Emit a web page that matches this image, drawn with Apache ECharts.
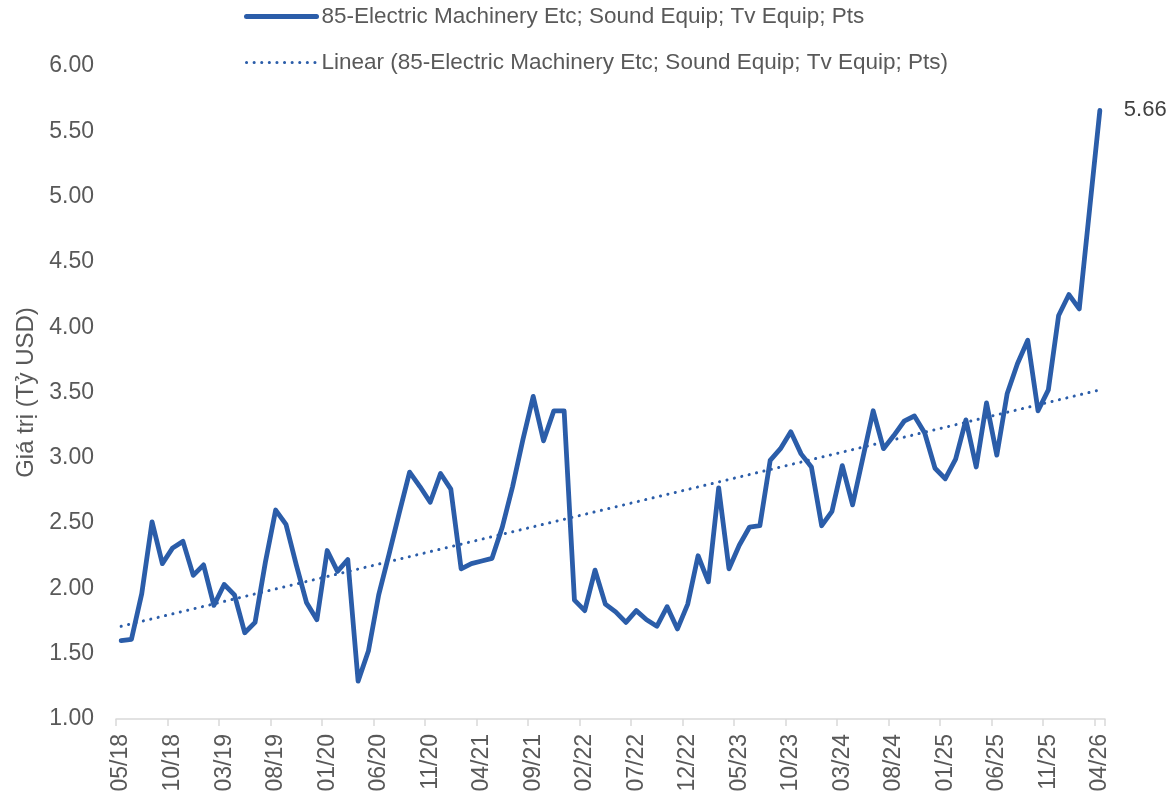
<!DOCTYPE html>
<html>
<head>
<meta charset="utf-8">
<script src="https://cdn.jsdelivr.net/npm/echarts@6/dist/echarts.min.js"></script>
<style>
  html, body { margin: 0; padding: 0; background: #fff; }
  #chart { width: 1171px; height: 798px; }
</style>
</head>
<body>
<div id="chart"></div>
<script>
// tên chuỗi dữ liệu
const seriesName = '85-Electric Machinery Etc; Sound Equip; Tv Equip; Pts';
const trendName = 'Linear (85-Electric Machinery Etc; Sound Equip; Tv Equip; Pts)';

// nhãn tháng 05/18 -> 04/26
const categories = [];
for (let y = 2018, m = 5; categories.length < 96; m++) {
  if (m > 12) { m = 1; y++; }
  categories.push(`${String(m).padStart(2, '0')}/${String(y).slice(2)}`);
}

// giá trị theo tháng (tỷ USD)
const values = [
  1.60, 1.61, 1.96, 2.51, 2.19, 2.31, 2.36, 2.10, 2.18, 1.87,
  2.03, 1.95, 1.66, 1.74, 2.20, 2.60, 2.49, 2.18, 1.89, 1.76,
  2.29, 2.13, 2.22, 1.29, 1.52, 1.95, 2.26, 2.58, 2.89, 2.78,
  2.66, 2.88, 2.76, 2.15, 2.19, 2.21, 2.23, 2.47, 2.78, 3.14,
  3.47, 3.13, 3.36, 3.36, 1.91, 1.83, 2.14, 1.88, 1.82, 1.74,
  1.83, 1.76, 1.71, 1.86, 1.69, 1.88, 2.25, 2.05, 2.77, 2.15,
  2.33, 2.47, 2.48, 2.98, 3.07, 3.20, 3.03, 2.93, 2.48, 2.59,
  2.94, 2.64, 3.00, 3.36, 3.07, 3.17, 3.28, 3.32, 3.19, 2.92,
  2.84, 2.99, 3.29, 2.93, 3.42, 3.02, 3.49, 3.72, 3.90, 3.36,
  3.52, 4.09, 4.25, 4.14, 4.90, 5.66,
];

// đường xu hướng: giá trị đầu và cuối
const trendStart = 1.71;
const trendEnd = 3.52;

const yTicks = { min: 1, max: 6, interval: 0.5 };

const color = '#2B5DA9';
const textColor = '#595959';
const font = 'Liberation Sans';

const trendData = values.map((v, i) => {
  if (i === 0) return trendStart;
  if (i === values.length - 1) return trendEnd;
  return null;
});

const chart = echarts.init(document.getElementById('chart'));

const option = {
  animation: false,
  textStyle: { fontFamily: font },
  legend: {
    orient: 'vertical',
    left: 239,
    top: 0,
    itemWidth: 70,
    itemHeight: 22,
    itemGap: 23,
    textStyle: { fontSize: 22.5, color: textColor, fontFamily: font },
    data: [
      {
        name: seriesName,
        itemStyle: { opacity: 0 },
        lineStyle: { color, width: 5, cap: 'round' },
      },
      {
        name: trendName,
        itemStyle: { opacity: 0 },
        lineStyle: { color, width: 3, type: [0.1, 7.5], cap: 'round' },
      },
    ],
  },
  grid: {
    left: 116,
    right: 66,
    top: 66,
    bottom: 79,
  },
  xAxis: {
    type: 'category',
    data: categories,
    boundaryGap: true,
    axisLine: { lineStyle: { color: '#D9D9D9', width: 1.5 } },
    axisTick: { show: true, interval: 4, length: 7, lineStyle: { color: '#D9D9D9', width: 1.5 } },
    axisLabel: {
      interval: 4,
      rotate: 90,
      margin: 15,
      fontSize: 23,
      color: textColor,
      fontFamily: font,
    },
  },
  yAxis: {
    type: 'value',
    min: yTicks.min,
    max: yTicks.max,
    interval: yTicks.interval,
    name: 'Giá trị (Tỷ USD)',
    nameLocation: 'middle',
    nameGap: 78,
    nameTextStyle: { fontSize: 24, color: textColor, fontFamily: font },
    splitLine: { show: false },
    axisLine: { show: false },
    axisTick: { show: false },
    axisLabel: {
      margin: 22,
      fontSize: 23,
      color: textColor,
      fontFamily: font,
      formatter: v => v.toFixed(2),
    },
  },
  series: [
    {
      name: seriesName,
      type: 'line',
      data: values,
      symbol: 'none',
      lineStyle: { color, width: 4.8, cap: 'round', join: 'round' },
      itemStyle: { color },
      endLabel: {
        show: true,
        distance: 24,
        fontSize: 22,
        color: '#404040',
        fontFamily: font,
        formatter: p => p.value.toFixed(2),
      },
      z: 3,
    },
    {
      name: trendName,
      type: 'line',
      data: trendData,
      connectNulls: true,
      symbol: 'none',
      lineStyle: { color, width: 3, type: [0.1, 7.5], cap: 'round' },
      itemStyle: { color },
      z: 2,
    },
  ],
};

chart.setOption(option);
</script>
</body>
</html>
